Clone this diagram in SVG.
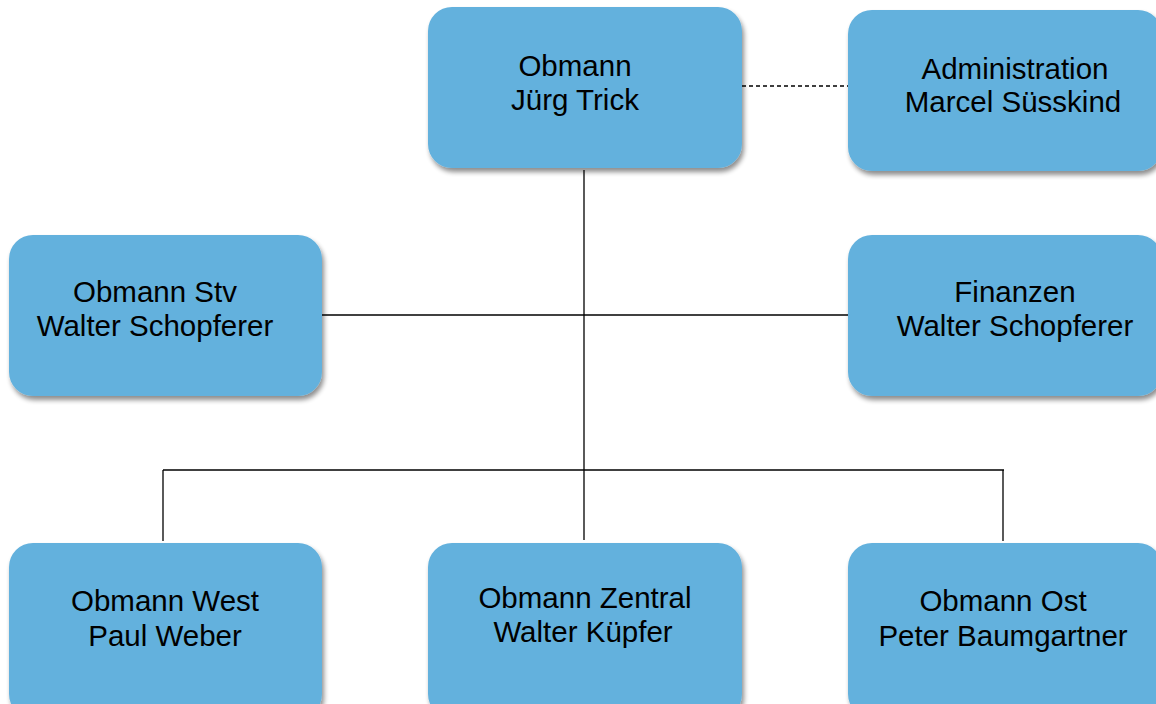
<svg xmlns="http://www.w3.org/2000/svg" width="1156" height="704" viewBox="0 0 1156 704">
<defs>
<filter id="sh" x="-10%" y="-10%" width="125%" height="130%">
<feGaussianBlur in="SourceAlpha" stdDeviation="2.5"/>
<feOffset dx="2" dy="4" result="b"/>
<feComponentTransfer><feFuncA type="linear" slope="0.45"/></feComponentTransfer>
<feMerge><feMergeNode/><feMergeNode in="SourceGraphic"/></feMerge>
</filter>
</defs>
<style>
.box{fill:#63b1dd;filter:url(#sh)}
.t{font-family:"Liberation Sans",Arial,sans-serif;font-size:29.5px;fill:#000;text-anchor:middle}
.ln{stroke:#000;stroke-width:1.3;fill:none}
.dash{stroke:#000;stroke-width:1.5;stroke-dasharray:4,3;fill:none}
</style>
<rect width="1156" height="704" fill="#fff"/>
<g id="connectors">
<line class="ln" x1="584" y1="170" x2="584" y2="540"/>
<line class="ln" x1="320" y1="315" x2="850" y2="315"/>
<line class="ln" x1="163" y1="470" x2="1004" y2="470"/>
<line class="ln" x1="163" y1="470" x2="163" y2="541"/>
<line class="ln" x1="1003" y1="470" x2="1003" y2="541"/>
<line class="dash" x1="742" y1="86" x2="848" y2="86"/>
</g>
<g id="n-obmann">
<rect class="box" x="428" y="7" width="314" height="161" rx="24"/>
<text class="t" x="575" y="76">Obmann</text>
<text class="t" x="575" y="110">Jürg Trick</text>
</g>
<g id="n-admin">
<rect class="box" x="848" y="10" width="314" height="161" rx="24"/>
<text class="t" x="1015" y="79">Administration</text>
<text class="t" x="1013" y="112">Marcel Süsskind</text>
</g>
<g id="n-stv">
<rect class="box" x="9" y="235" width="313" height="161" rx="24"/>
<text class="t" x="155" y="302">Obmann Stv</text>
<text class="t" x="155" y="336">Walter Schopferer</text>
</g>
<g id="n-finanzen">
<rect class="box" x="848" y="235" width="314" height="161" rx="24"/>
<text class="t" x="1015" y="302">Finanzen</text>
<text class="t" x="1015" y="336">Walter Schopferer</text>
</g>
<g id="n-west">
<rect class="box" x="9" y="543" width="313" height="175" rx="24"/>
<text class="t" x="165" y="611">Obmann West</text>
<text class="t" x="165" y="646">Paul Weber</text>
</g>
<g id="n-zentral">
<rect class="box" x="428" y="543" width="314" height="175" rx="24"/>
<text class="t" x="585" y="608">Obmann Zentral</text>
<text class="t" x="583" y="642">Walter Küpfer</text>
</g>
<g id="n-ost">
<rect class="box" x="848" y="543" width="314" height="175" rx="24"/>
<text class="t" x="1003" y="611">Obmann Ost</text>
<text class="t" x="1003" y="646">Peter Baumgartner</text>
</g>
</svg>
